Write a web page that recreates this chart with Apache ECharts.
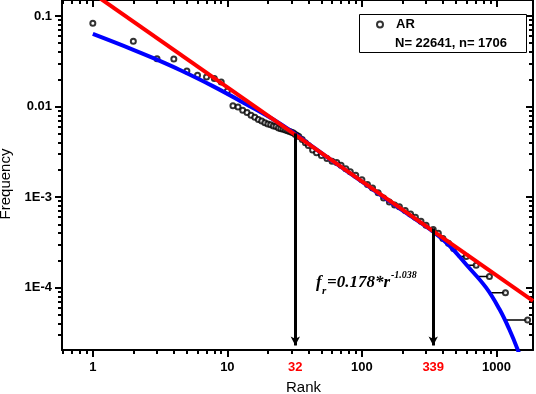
<!DOCTYPE html>
<html>
<head>
<meta charset="utf-8">
<script src="https://cdn.jsdelivr.net/npm/echarts@6/dist/echarts.min.js"></script>
<style>
  html, body { margin: 0; padding: 0; background: #fff; }
  #chart { width: 536px; height: 394px; }
</style>
</head>
<body>
<div id="chart"></div>
<script>
// observed rank-frequency points (AR)
const ranks = [1, 2, 3, 4, 5, 6, 7, 8, 9, 10, 11, 12, 13, 14, 15, 16, 17, 18, 19, 20,
  21, 22, 23, 24, 25, 26, 27, 28, 29, 30, 31, 32, 33, 34, 36, 38, 40, 43, 46, 50,
  55, 60, 65, 70, 76, 82, 90, 100, 110, 120, 132, 145, 160, 175, 190, 210, 230, 250, 275, 300,
  339, 370, 400, 440, 480]
const freqs = [0.0832, 0.0527, 0.0337, 0.0334, 0.0246, 0.0222, 0.0212, 0.0204, 0.0187, 0.0148,
  0.0102, 0.0099, 0.0091, 0.0086, 0.0080, 0.0076, 0.0072, 0.0069, 0.0066, 0.0064,
  0.0063, 0.0061, 0.0060, 0.0058, 0.0057, 0.0056, 0.0055, 0.0054, 0.0053, 0.0052,
  0.0051, 0.0049, 0.0048, 0.00466, 0.00432, 0.00398, 0.00372, 0.00332, 0.00309, 0.00288,
  0.00266, 0.00249, 0.00241, 0.00224, 0.00206, 0.00191, 0.00174, 0.00155, 0.00138, 0.00126,
  0.00112, 0.00098, 0.00088, 0.00082, 0.00078, 0.00071, 0.00065, 0.00060, 0.00054, 0.00049,
  0.00044, 0.00040, 0.00035, 0.00031, 0.00027]

// tied frequencies in the tail: bar from first rank to last rank
const tieStart = [513, 597, 708, 888, 1168]
const tieEnd = [596, 707, 887, 1167, 1706]
const tieFreq = [2.21e-4, 1.77e-4, 1.33e-4, 8.8e-5, 4.4e-5]

// fitted curve (blue)
const blueRank = [1, 2, 3, 4.4, 7.8, 13.8, 24.5, 38.6, 60, 100, 200, 339, 448, 596, 838, 1052, 1248, 1439, 1560]
const blueFreq = [0.0633, 0.0423, 0.0329, 0.0255, 0.0168, 0.0106, 0.0065, 0.00405, 0.00252, 0.00148,
  0.000712, 0.000415, 0.000290, 0.000180, 0.000100, 0.0000580, 0.0000345, 0.0000207, 0.0000145]

// power law f = 0.178 * r^-1.038 (red), end points
const redRank = [1, 1870]
const redFreq = [0.178, 0.0000714]

// marked ranks with arrows
const markRank = [32, 339]
const markFreq = [0.00505, 0.000452]

const xTickValues = [1, 10, 32, 100, 339, 1000]
const xTickLabels = ['1', '10', '32', '100', '339', '1000']
const xMajorTicks = [1, 10, 100, 1000]
const xMinorTicks = [0.6, 0.7, 0.8, 0.9, 2, 3, 4, 5, 6, 7, 8, 9, 20, 30, 40, 50, 60, 70, 80, 90,
  200, 300, 400, 500, 600, 700, 800, 900]
const yTickValues = [0.1, 0.01, 0.001, 0.0001]
const yTickLabels = ['0.1', '0.01', '1E-3', '1E-4']
const yMinorTicks = [3e-5, 4e-5, 5e-5, 6e-5, 7e-5, 8e-5, 9e-5,
  2e-4, 3e-4, 4e-4, 5e-4, 6e-4, 7e-4, 8e-4, 9e-4,
  2e-3, 3e-3, 4e-3, 5e-3, 6e-3, 7e-3, 8e-3, 9e-3,
  0.02, 0.03, 0.04, 0.05, 0.06, 0.07, 0.08, 0.09]

const X_MIN = 0.59
const X_MAX = 1870
const Y_MIN = 2.05e-5
const Y_MAX = 0.15
const FONT = 'Liberation Sans'
const SERIF = 'Liberation Serif'

const same = (a, b) => Math.abs(Math.log10(a / b)) < 1e-6

function logAxis (extra) {
  return Object.assign({
    type: 'log',
    logBase: 10,
    splitLine: { show: false },
    axisLine: { show: true, lineStyle: { color: '#000', width: 2 } },
    axisLabel: { show: false },
    axisPointer: { show: false },
    silent: true
  }, extra)
}

function tick (values, len, inside) {
  return { show: true, customValues: values, length: len, inside: !!inside, lineStyle: { color: '#000', width: 2 } }
}

const xRange = { min: X_MIN, max: X_MAX }
const yRange = { min: Y_MIN, max: Y_MAX }

const chart = echarts.init(document.getElementById('chart'), null, { renderer: 'canvas' })

chart.setOption({
  animation: false,
  backgroundColor: '#fff',
  grid: { left: 62, right: 3, top: 0, bottom: 44, containLabel: false, outerBoundsMode: 'none' },
  legend: {
    data: ['AR'],
    left: 371,
    top: 13,
    icon: 'emptyCircle',
    itemWidth: 6,
    itemHeight: 6,
    selectedMode: false,
    textStyle: { color: '#000', fontWeight: 'bold', fontSize: 13, fontFamily: FONT, padding: [0, 0, 0, 8] }
  },
  xAxis: [
    logAxis(Object.assign({
      position: 'bottom',
      axisTick: tick(xMajorTicks, 7),
      axisLabel: {
        show: true,
        customValues: xTickValues,
        margin: 11,
        color: '#000',
        fontWeight: 'bold',
        fontSize: 13,
        fontFamily: FONT,
        formatter: function (v) {
          const i = xTickValues.findIndex(t => same(v, t))
          if (i < 0) return ''
          return markRank.includes(xTickValues[i]) ? '{hl|' + xTickLabels[i] + '}' : xTickLabels[i]
        },
        rich: { hl: { color: '#ff0000', fontWeight: 'bold', fontSize: 13, fontFamily: FONT } }
      },
      name: 'Rank',
      nameLocation: 'middle',
      nameGap: 30,
      nameTextStyle: { color: '#000', fontSize: 15, fontFamily: FONT, padding: [0, 0, 0, 12] }
    }, xRange)),
    logAxis(Object.assign({ position: 'bottom', axisLine: { show: false }, axisTick: tick(xMinorTicks, 4) }, xRange)),
    logAxis(Object.assign({ position: 'top', axisTick: tick(xMajorTicks, 7, true) }, xRange)),
    logAxis(Object.assign({ position: 'top', axisLine: { show: false }, axisTick: tick(xMinorTicks, 4, true) }, xRange))
  ],
  yAxis: [
    logAxis(Object.assign({
      position: 'left',
      axisTick: tick(yTickValues, 7),
      axisLabel: {
        show: true,
        customValues: yTickValues,
        margin: 10,
        color: '#000',
        fontWeight: 'bold',
        fontSize: 13,
        fontFamily: FONT,
        formatter: function (v) {
          const i = yTickValues.findIndex(t => same(v, t))
          return i < 0 ? '' : yTickLabels[i]
        }
      },
      name: 'Frequency',
      nameLocation: 'middle',
      nameGap: 43,
      nameTextStyle: { color: '#000', fontSize: 15, fontFamily: FONT, padding: [0, 18, 0, 0] }
    }, yRange)),
    logAxis(Object.assign({ position: 'left', axisLine: { show: false }, axisTick: tick(yMinorTicks, 4) }, yRange)),
    logAxis(Object.assign({ position: 'right', axisTick: tick(yTickValues, 7, true) }, yRange)),
    logAxis(Object.assign({ position: 'right', axisLine: { show: false }, axisTick: tick(yMinorTicks, 4, true) }, yRange))
  ],
  series: [
    {
      name: 'AR',
      type: 'scatter',
      symbol: 'emptyCircle',
      symbolSize: 5,
      itemStyle: { color: '#000', borderWidth: 1 },
      data: ranks.map((r, i) => [r, freqs[i]]).concat(tieEnd.map((r, i) => [r, tieFreq[i]])),
      z: 2,
      silent: true
    },
    {
      name: 'ties',
      type: 'line',
      symbol: 'none',
      lineStyle: { color: '#000', width: 1.5 },
      data: tieStart.flatMap((s, i) => [[s, tieFreq[i]], [tieEnd[i], tieFreq[i]], null]),
      z: 2,
      silent: true
    },
    {
      name: 'fit',
      type: 'line',
      symbol: 'none',
      smooth: 0.4,
      lineStyle: { color: '#0000ff', width: 4 },
      data: blueRank.map((r, i) => [r, blueFreq[i]]),
      z: 3,
      silent: true,
      markLine: {
        silent: true,
        symbol: ['none', 'arrow'],
        symbolSize: [7, 9],
        label: { show: false },
        lineStyle: { color: '#000', width: 3, type: 'solid' },
        data: markRank.map((r, i) => [{ coord: [r, markFreq[i]] }, { coord: [r, 2.3e-5] }])
      }
    },
    {
      name: 'power law',
      type: 'line',
      symbol: 'none',
      lineStyle: { color: '#ff0000', width: 4 },
      data: redRank.map((r, i) => [r, redFreq[i]]),
      z: 4,
      silent: true
    }
  ],
  graphic: [
    { type: 'rect', shape: { x: 359.5, y: 14.5, width: 167, height: 38 }, style: { fill: 'none', stroke: '#000', lineWidth: 1 }, silent: true },
    { type: 'text', x: 395, y: 43, style: { text: 'N= 22641, n= 1706', font: 'bold 13px "Liberation Sans"', fill: '#000', verticalAlign: 'middle' }, silent: true },
    { type: 'text', x: 316, y: 283, style: { text: 'f', font: 'italic bold 17px "' + SERIF + '"', fill: '#000', verticalAlign: 'middle' }, silent: true },
    { type: 'text', x: 322, y: 291, style: { text: 'r', font: 'italic bold 11px "' + SERIF + '"', fill: '#000', verticalAlign: 'middle' }, silent: true },
    { type: 'text', x: 327, y: 283, style: { text: '=0.178*r', font: 'italic bold 17px "' + SERIF + '"', fill: '#000', verticalAlign: 'middle' }, silent: true },
    { type: 'text', x: 391, y: 275, style: { text: '-1.038', font: 'italic bold 10px "' + SERIF + '"', fill: '#000', verticalAlign: 'middle' }, silent: true }
  ]
})
</script>
</body>
</html>
